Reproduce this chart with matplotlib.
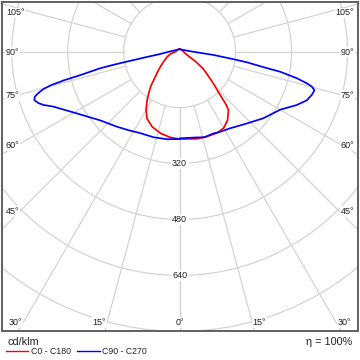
import numpy as np
import matplotlib
matplotlib.use("Agg")
import matplotlib.pyplot as plt
from matplotlib.patches import Circle
from matplotlib.lines import Line2D

plt.rcParams['font.family'] = ['Liberation Sans', 'DejaVu Sans']

# ---- data (gamma in degrees, intensity in cd/klm) ----
gamma_c0 = [0, 11, 18, 25, 30, 35, 40, 41.5, 43, 45, 47, 50, 54, 58, 65, 75, 90, 135, 180]
int_c0 = [250, 254, 255, 256, 252, 239, 217, 197, 170, 148, 129, 105, 83, 55, 25, 15, 11, 8, 7]

gamma_c180 = [0, 6, 13, 20, 26, 30, 34, 37, 40, 43, 48, 53, 60, 68, 77, 90, 135, 180]
int_c180 = [250, 247, 240, 229, 213, 192, 166, 146, 128, 106, 84, 67, 50, 38, 26, 11, 8, 7]

gamma_c90 = [0, 11, 16, 22, 27, 33, 43, 51.5, 60, 65.5, 69, 72, 74, 75.2, 76, 77.2, 78.7, 79.5, 81, 82.3, 84.4, 90, 135, 180]
int_c90 = [248, 250, 255, 253, 257, 262, 281, 306, 332, 368, 389, 398, 401, 391, 375, 344, 293, 244, 195, 146, 97, 37, 8, 7]

gamma_c270 = [0, 8, 17, 26, 33, 40, 49, 59, 66.5, 68.6, 70, 71.6, 72.7, 73.6, 74.6, 75.4, 76.1, 76.7, 78.2, 78.8, 79.5, 80.6, 83, 90, 135, 180]
int_c270 = [250, 253, 256, 259, 268, 280, 300, 343, 394, 418, 430, 438, 434, 422, 405, 380, 340, 292, 232, 189, 143, 100, 57, 30, 8, 7]

ring_values = [160, 320, 480, 640, 800]
ring_labels = ["320", "480", "640"]
spoke_angles = list(range(0, 181, 15))

side_labels = ["105°", "90°", "75°", "60°", "45°"]
side_label_y = [0.9666, 0.848, 0.717, 0.565, 0.362]
bottom_labels = ["30°", "15°", "0°", "15°", "30°"]
bottom_label_x = [0.0365, 0.274, 0.5, 0.723, 0.963]

legend_names = ["C0 - C180", "C90 - C270"]
red = "#ff0000"
blue = "#0000ff"


def to_xy(gamma, inten, side):
    g = np.radians(np.asarray(gamma, dtype=float))
    r = np.asarray(inten, dtype=float)
    return side * r * np.sin(g), -r * np.cos(g)


fig = plt.figure(figsize=(3.6, 3.6), dpi=100)
ax = fig.add_axes([2 / 360, 29 / 360, 356 / 360, 329 / 360])
ax.set_xlim(-508, 510)
ax.set_ylim(-799, 142)
ax.set_xticks([])
ax.set_yticks([])
for s in ax.spines.values():
    s.set_color("#606060")
    s.set_linewidth(1.4)

grid_col = "#d4d4d4"
for rv in ring_values:
    ax.add_patch(Circle((0, 0), rv, fill=False, ec=grid_col, lw=0.9, zorder=1))
for a in spoke_angles:
    ar = np.radians(a)
    for side in (-1, 1):
        ax.plot([side * 160 * np.sin(ar), side * 1200 * np.sin(ar)],
                [-160 * np.cos(ar), -1200 * np.cos(ar)], color=grid_col, lw=0.9, zorder=1)

lab_fs = 6.5
for lab in ring_labels:
    ax.text(0, -float(lab), lab, ha="center", va="center", fontsize=lab_fs, color="#222222",
            bbox=dict(boxstyle="square,pad=0.15", fc="white", ec="none"), zorder=2)

for lab, y in zip(side_labels, side_label_y):
    ax.text(0.011, y, lab, transform=ax.transAxes, ha="left", va="center", fontsize=lab_fs,
            color="#222222", bbox=dict(boxstyle="square,pad=0.1", fc="white", ec="none"), zorder=2)
    ax.text(0.989, y, lab, transform=ax.transAxes, ha="right", va="center", fontsize=lab_fs,
            color="#222222", bbox=dict(boxstyle="square,pad=0.1", fc="white", ec="none"), zorder=2)
for lab, x in zip(bottom_labels, bottom_label_x):
    ax.text(x, 0.027, lab, transform=ax.transAxes, ha="center", va="center", fontsize=lab_fs,
            color="#222222", bbox=dict(boxstyle="square,pad=0.1", fc="white", ec="none"), zorder=2)

# curves
x1, y1 = to_xy(gamma_c0, int_c0, 1)
x2, y2 = to_xy(gamma_c180, int_c180, -1)
ax.plot(np.concatenate([x2[::-1], x1]), np.concatenate([y2[::-1], y1]), color=red, lw=1.25,
        zorder=3, solid_joinstyle="round")
x3, y3 = to_xy(gamma_c90, int_c90, 1)
x4, y4 = to_xy(gamma_c270, int_c270, -1)
ax.plot(np.concatenate([x4[::-1], x3]), np.concatenate([y4[::-1], y3]), color=blue, lw=1.25,
        zorder=4, solid_joinstyle="round")

# texts below
fig.text(7 / 360, 1 - 342 / 360, "cd/klm", ha="left", va="center", fontsize=7.8, color="#222222")
fig.text(352.5 / 360, 1 - 342 / 360, "η = 100%", ha="right", va="center", fontsize=7.8, color="#222222")
fig.add_artist(Line2D([6 / 360, 28 / 360], [1 - 351 / 360] * 2, color=red, lw=1.0))
fig.text(31 / 360, 1 - 351.5 / 360, legend_names[0], ha="left", va="center", fontsize=6.3, color="#222222")
fig.add_artist(Line2D([77 / 360, 100 / 360], [1 - 351 / 360] * 2, color=blue, lw=1.0))
fig.text(102 / 360, 1 - 351.5 / 360, legend_names[1], ha="left", va="center", fontsize=6.3, color="#222222")

fig.savefig("out.png", dpi=100)
